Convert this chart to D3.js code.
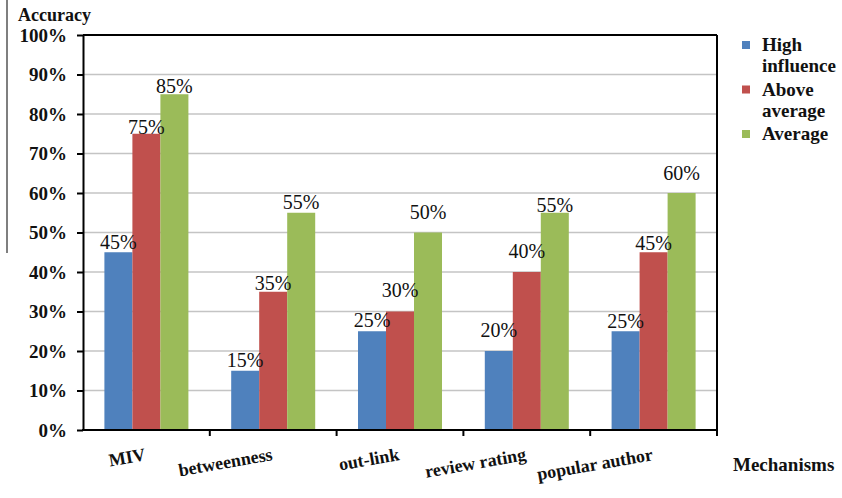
<!DOCTYPE html>
<html>
<head>
<meta charset="utf-8">
<script src="https://cdn.jsdelivr.net/npm/d3@7"></script>
<style>
  body { margin: 0; background: #fff; }
</style>
</head>
<body>
<svg id="chart" width="842" height="498"></svg>
<script>
// Accuracy of each influence mechanism, per user group (percent)
const mechanisms = ["MIV", "betweenness", "out-link", "review rating", "popular author"];
const seriesNames = ["High influence", "Above average", "Average"];
const highInfluence = [45, 15, 25, 20, 25];
const aboveAverage = [75, 35, 30, 40, 45];
const average = [85, 55, 50, 55, 60];
const yTicks = [0, 10, 20, 30, 40, 50, 60, 70, 80, 90, 100];

// Styling / layout
const seriesColors = ["#4F81BD", "#C0504D", "#9BBB59"];
const legendLines = [["High", "influence"], ["Above", "average"], ["Average"]];
// distance (px) between each bar top and its value label baseline
const labelGap = [[3, 0, 1], [4, 2, 4], [4, 15, 14], [14, 14, 1], [3, 2, 13]];
const serif = "'Liberation Serif', 'Times New Roman', serif";

const seriesValues = [highInfluence, aboveAverage, average];

const svg = d3.select("#chart");
const plotLeft = 83, plotRight = 717, plotTop = 35, plotBottom = 430;

const x0 = d3.scaleBand().domain(mechanisms).range([plotLeft, plotRight])
  .paddingInner(0.3375).paddingOuter(0.16875);
const x1 = d3.scaleBand().domain(seriesNames).range([0, x0.bandwidth()]);
const y = d3.scaleLinear().domain([0, 100]).range([plotBottom, plotTop]);

// stray vertical rule at the far left
svg.append("line").attr("x1", 7).attr("x2", 7).attr("y1", 0).attr("y2", 253)
  .attr("stroke", "#555").attr("stroke-width", 1.5);

// horizontal gridlines
svg.append("g").selectAll("line")
  .data(yTicks.filter(t => t > 0 && t < 100))
  .join("line")
  .attr("x1", plotLeft).attr("x2", plotRight)
  .attr("y1", d => y(d)).attr("y2", d => y(d))
  .attr("stroke", "#c4c4c4").attr("stroke-width", 1.5);

// bars
const groups = svg.append("g").selectAll("g")
  .data(mechanisms)
  .join("g")
  .attr("transform", d => `translate(${x0(d)},0)`);

groups.selectAll("rect")
  .data((m, i) => seriesNames.map((s, j) => ({ s, j, i, v: seriesValues[j][i] })))
  .join("rect")
  .attr("x", d => x1(d.s))
  .attr("width", x1.bandwidth())
  .attr("y", d => y(d.v))
  .attr("height", d => plotBottom - y(d.v))
  .attr("fill", d => seriesColors[d.j]);

// value labels
groups.selectAll("text.val")
  .data((m, i) => seriesNames.map((s, j) => ({ s, j, i, v: seriesValues[j][i] })))
  .join("text")
  .attr("class", "val")
  .attr("x", d => x1(d.s) + x1.bandwidth() / 2)
  .attr("y", d => y(d.v) - labelGap[d.i][d.j])
  .attr("text-anchor", "middle")
  .style("font-family", serif).style("font-size", "20px").style("fill", "#111")
  .text(d => d.v + "%");

// y axis
const yAxis = svg.append("g")
  .attr("transform", `translate(${plotLeft},0)`)
  .call(d3.axisLeft(y).tickValues(yTicks).tickSize(6).tickSizeOuter(0)
    .tickPadding(10).tickFormat(d => d + "%"));
yAxis.select(".domain").attr("stroke", "#000").attr("stroke-width", 2);
yAxis.selectAll(".tick line").attr("stroke", "#000").attr("stroke-width", 2);
yAxis.selectAll(".tick text")
  .style("font-family", serif).style("font-size", "19px")
  .style("font-weight", "bold").style("fill", "#111");

// frame: top and right edges
svg.append("line").attr("x1", plotLeft).attr("x2", plotRight).attr("y1", plotTop).attr("y2", plotTop)
  .attr("stroke", "#000").attr("stroke-width", 2);
svg.append("line").attr("x1", plotRight).attr("x2", plotRight).attr("y1", plotTop).attr("y2", plotBottom)
  .attr("stroke", "#000").attr("stroke-width", 2);

// x axis line and ticks at category boundaries
svg.append("line").attr("x1", plotLeft - 1).attr("x2", plotRight + 1).attr("y1", plotBottom).attr("y2", plotBottom)
  .attr("stroke", "#000").attr("stroke-width", 2);
const boundaries = d3.range(1, mechanisms.length + 1).map(i => plotLeft + i * x0.step());
svg.append("g").selectAll("line")
  .data(boundaries)
  .join("line")
  .attr("x1", d => d).attr("x2", d => d)
  .attr("y1", plotBottom).attr("y2", plotBottom + 6)
  .attr("stroke", "#000").attr("stroke-width", 2);

// category labels, slanted
svg.append("g").selectAll("text")
  .data(mechanisms)
  .join("text")
  .attr("transform", d => `translate(${x0(d) + x0.bandwidth() / 2},460) rotate(-10)`)
  .attr("text-anchor", "end")
  .style("font-family", serif).style("font-size", "18px")
  .style("font-weight", "bold").style("fill", "#111")
  .text(d => d);

// axis titles
svg.append("text").attr("x", 18).attr("y", 21)
  .style("font-family", serif).style("font-size", "18px")
  .style("font-weight", "bold").style("fill", "#111")
  .text("Accuracy");
svg.append("text").attr("x", 733).attr("y", 471)
  .style("font-family", serif).style("font-size", "19px")
  .style("font-weight", "bold").style("fill", "#111")
  .text("Mechanisms");

// legend
const legend = svg.append("g").selectAll("g")
  .data(seriesNames)
  .join("g")
  .attr("transform", (d, i) => `translate(742,${51 + i * 44.5})`);
legend.append("rect")
  .attr("x", 0).attr("y", -10).attr("width", 8).attr("height", 8)
  .attr("fill", (d, i) => seriesColors[i]);
legend.each(function (d, i) {
  d3.select(this).selectAll("text")
    .data(legendLines[i])
    .join("text")
    .attr("x", 20)
    .attr("y", (t, k) => k * 21)
    .style("font-family", serif).style("font-size", "19px")
    .style("font-weight", "bold").style("fill", "#111")
    .text(t => t);
});
</script>
</body>
</html>
